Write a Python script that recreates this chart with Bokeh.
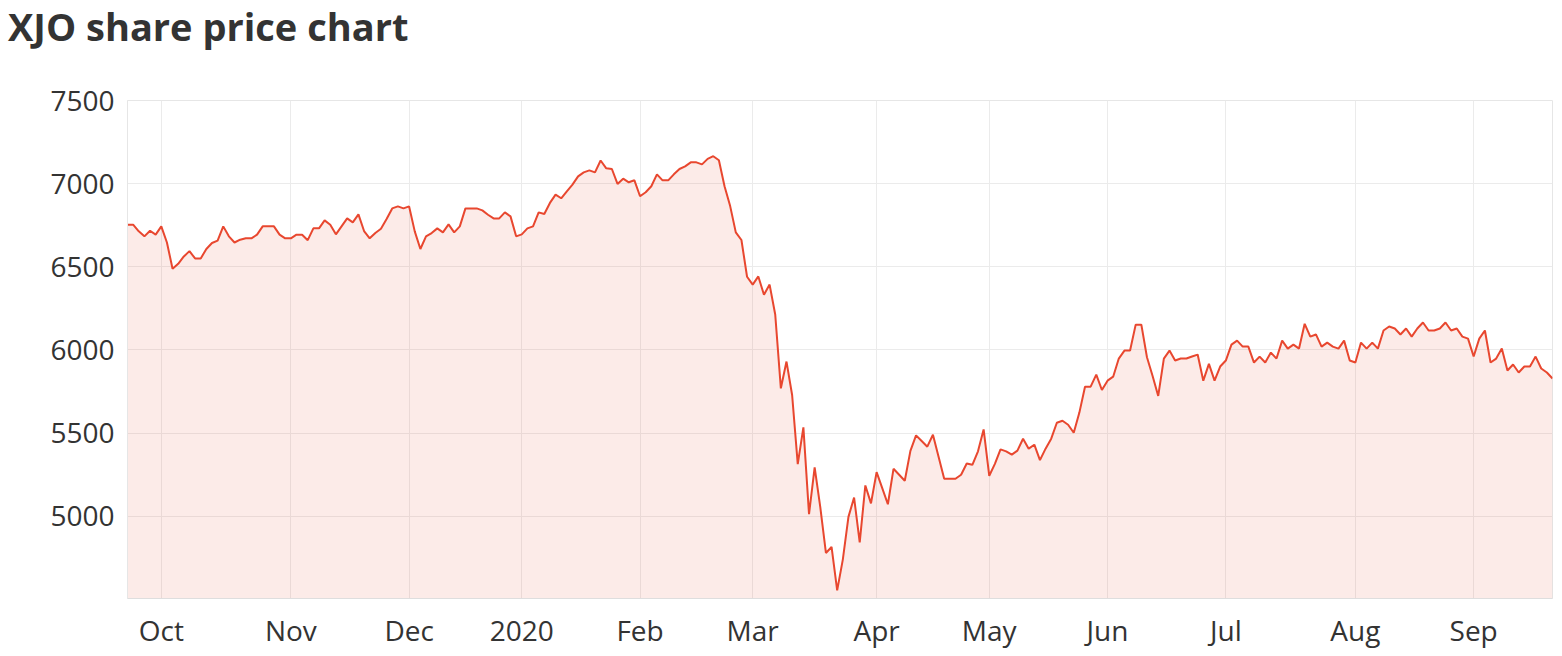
import pandas as pd
from bokeh.plotting import figure
from bokeh.layouts import column
from bokeh.models import Range1d, FixedTicker, ColumnDataSource, Div
from bokeh.embed import file_html
from bokeh.resources import INLINE

# ---- data -------------------------------------------------------------
title_text = "XJO share price chart"
start_date = "2019-09-23"
end_date = "2020-09-21"
asx_holidays = ["2019-12-25", "2019-12-26", "2020-01-01", "2020-01-27",
                "2020-04-10", "2020-04-13", "2020-06-08"]

prices_q4_2019 = [
    6753, 6753, 6713, 6683, 6717, 6693, 6743, 6646, 6488, 6518,
    6562, 6594, 6550, 6550, 6607, 6643, 6657, 6743, 6683, 6646,
    6663, 6671, 6671, 6693, 6743, 6743, 6743, 6693, 6671, 6671,
    6693, 6693, 6660, 6731, 6731, 6779, 6753, 6695, 6743, 6791,
    6767, 6815, 6715, 6671, 6703, 6729, 6787, 6851, 6863, 6851,
    6863, 6713, 6607, 6683, 6703, 6731, 6707, 6755, 6707, 6743,
    6851, 6851, 6851, 6839, 6813, 6791, 6791, 6827, 6803, 6683,
]
prices_q1_2020 = [
    6695, 6731, 6743, 6827, 6817, 6884, 6934, 6912, 6954, 6994,
    7044, 7068, 7080, 7068, 7139, 7092, 7088, 6998, 7030, 7008,
    7020, 6924, 6948, 6984, 7056, 7020, 7020, 7056, 7088, 7104,
    7128, 7128, 7116, 7149, 7165, 7141, 6984, 6865, 6707, 6661,
    6440, 6393, 6442, 6332, 6393, 6213, 5769, 5930, 5729, 5313,
    5534, 5012, 5293, 5054, 4779, 4815, 4554, 4739, 4996, 5112,
    4843, 5185, 5077,
]
prices_q2_2020 = [
    5265, 5169, 5072, 5285, 5249, 5213, 5393, 5486, 5452, 5418,
    5490, 5357, 5225, 5225, 5225, 5249, 5317, 5309, 5390, 5522,
    5243, 5315, 5402, 5390, 5370, 5394, 5466, 5406, 5430, 5337,
    5406, 5466, 5562, 5574, 5550, 5502, 5623, 5779, 5779, 5851,
    5759, 5815, 5839, 5948, 5996, 5996, 6152, 6152, 5956, 5843,
    5723, 5948, 5996, 5936, 5948, 5948, 5960, 5972, 5815, 5916,
    5815, 5900,
]
prices_q3_2020 = [
    5936, 6032, 6056, 6020, 6020, 5924, 5960, 5924, 5984, 5948,
    6056, 6008, 6032, 6008, 6157, 6080, 6093, 6020, 6044, 6020,
    6008, 6056, 5936, 5924, 6044, 6008, 6044, 6008, 6117, 6141,
    6129, 6093, 6129, 6080, 6129, 6165, 6117, 6117, 6129, 6165,
    6117, 6129, 6080, 6068, 5960, 6068, 6117, 5924, 5948, 6008,
    5876, 5912, 5864, 5900, 5900, 5960, 5888, 5864, 5828,
]
y_ticks = [5000, 5500, 6000, 6500, 7000, 7500]
y_min, y_max = 4505, 7500

prices = prices_q4_2019 + prices_q1_2020 + prices_q2_2020 + prices_q3_2020

# trading days -> index positions
dates = [d for d in pd.bdate_range(start_date, end_date)
         if d.strftime("%Y-%m-%d") not in asx_holidays][:len(prices)]
idx = list(range(len(prices)))

tick_pos, tick_lbl = [], {}
for i in range(1, len(dates)):
    if dates[i].month != dates[i - 1].month:
        tick_pos.append(i)
        tick_lbl[i] = str(dates[i].year) if dates[i].month == 1 else dates[i].strftime("%b")

src = ColumnDataSource(dict(x=idx, y=prices, base=[y_min] * len(prices)))

# ---- layout -----------------------------------------------------------
FONT = "Open Sans"
W = 1554
TITLE_H = 52

title = Div(text=title_text, width=W, height=TITLE_H, margin=(0, 0, 0, 0),
            styles={"font-family": FONT, "font-size": "38px", "font-weight": "bold",
                    "color": "#333333", "line-height": "52px",
                    "padding-left": "8px", "white-space": "nowrap"})

p = figure(width=W, height=599, output_backend="svg", toolbar_location=None,
           x_range=Range1d(0, len(prices) - 1), y_range=Range1d(y_min, y_max),
           min_border_left=127, min_border_right=2, min_border_bottom=50,
           min_border_top=100 - TITLE_H, margin=(0, 0, 0, 0))

p.varea(x="x", y1="base", y2="y", source=src, fill_color="#e8472f", fill_alpha=0.11)
p.line(x="x", y="y", source=src, line_color="#e8472f", line_width=2)

p.outline_line_color = "#e6e6e6"
p.background_fill_color = "white"
p.border_fill_color = "white"

p.xaxis.ticker = FixedTicker(ticks=tick_pos)
p.xaxis.major_label_overrides = tick_lbl
p.yaxis.ticker = FixedTicker(ticks=y_ticks)

for ax in (p.xaxis, p.yaxis):
    ax.major_label_text_font = FONT
    ax.major_label_text_font_size = "28px"
    ax.major_label_text_color = "#333333"
    ax.major_tick_line_color = None
    ax.minor_tick_line_color = None
p.yaxis.axis_line_color = "#e6e6e6"
p.xaxis.axis_line_color = "#dedede"
p.yaxis.major_label_standoff = 7
p.xaxis.major_label_standoff = 6

p.xgrid.ticker = FixedTicker(ticks=tick_pos)
p.ygrid.ticker = FixedTicker(ticks=y_ticks)
p.xgrid.grid_line_color = "#ebebeb"
p.ygrid.grid_line_color = "#ebebeb"

layout = column(title, p, spacing=0)
open("out.html", "w").write(file_html(layout, INLINE))
